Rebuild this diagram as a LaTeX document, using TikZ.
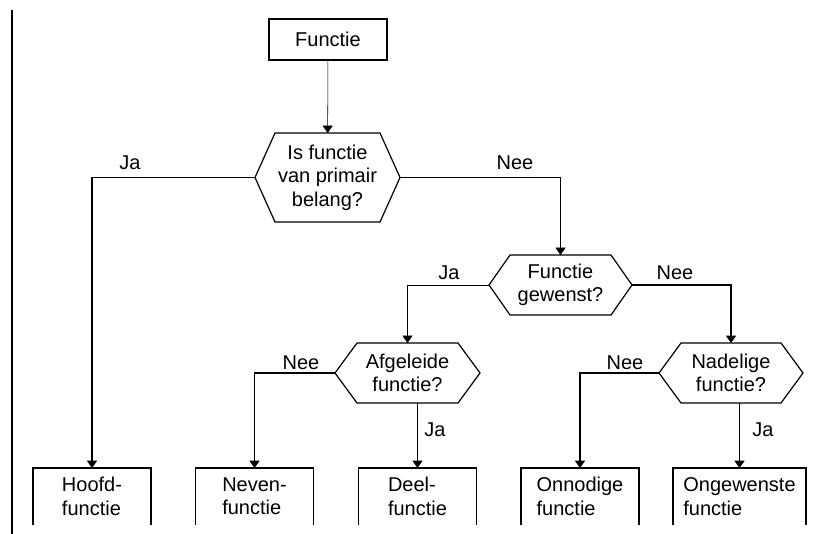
\documentclass[tikz,border=0pt]{standalone}
\usepackage{fontspec}
\setmainfont{Liberation Sans}
\usetikzlibrary{arrows.meta}

\begin{document}
\begin{tikzpicture}[x=0.75pt, y=-0.75pt, -{Triangle[width=7.5pt,length=5.5pt]}, line width=1.1pt,
font=\fontsize{15}{17.5}\selectfont,
keuze/.style ={rectangle, inner sep=0pt, outer sep=0pt, align=center, minimum width=0.75*145pt, minimum height=0.75*60pt},
uitkomst/.style ={rectangle, inner sep=0pt, outer sep=0pt, align=left, anchor=north, minimum width=0.75*118pt, minimum height=0.75*57pt},
dun/.style ={line width=0.4pt},
antwoord/.style ={inner sep=0pt}]
\useasboundingbox (0,0) rectangle (816,534);
\draw[-, line width=1.5pt] (12,10) -- (12,534);

\node[draw, rectangle, outer sep=0pt, minimum width=0.75*118pt, minimum height=0.75*41pt] (functie) at (328,39.5) {Functie};
\node[keuze, minimum height=0.75*89pt] (primair) at (327.5,177.5) {Is functie\\van primair\\belang?};
\node[keuze, minimum width=0.75*143pt] (gewenst) at (560.5,285) {Functie\\gewenst?};
\node[keuze] (afgeleid) at (407.5,373) {Afgeleide\\functie?};
\node[keuze, minimum width=0.75*144pt] (nadelig) at (731,373) {Nadelige\\functie?};

\node[uitkomst] (hoofd) at (92,468) {Hoofd-\\functie};
\node[uitkomst] (neven) at (254.5,468) {Neven-\\functie};
\node[uitkomst] (deel) at (417.5,468) {Deel-\\functie};
\node[uitkomst] (onnodig) at (580,468) {Onnodige\\functie};
\node[uitkomst, minimum width=0.75*133pt] (ongewenst) at (739.5,468) {Ongewenste\\functie};

% zeshoeken en open vakken
\foreach \n/\d in {primair/20, gewenst/21, afgeleid/22, nadelig/22}
  \draw[-, line width=0.9pt] ([xshift=0.75pt*\d]\n.north west) -- ([xshift=-0.75pt*\d]\n.north east) -- (\n.east)
    -- ([xshift=-0.75pt*\d]\n.south east) -- ([xshift=0.75pt*\d]\n.south west) -- (\n.west) -- cycle;
\foreach \n in {hoofd, neven, deel, onnodig, ongewenst}
  \draw[-] (\n.south west) -- (\n.north west) -- (\n.north east) -- (\n.south east);

\draw[dun] (functie) -- (primair);
\draw (primair.west) -| (hoofd.north);
\draw[dun] (primair.east) -| (gewenst.north);
\draw[dun] (gewenst.west) -| (afgeleid.north);
\draw (gewenst.east) -| (nadelig.north);
\draw (afgeleid.west) -| (neven.north);
\draw (deel.north |- afgeleid.south) -- (deel.north);
\draw (nadelig.west) -| (onnodig.north);
\draw (ongewenst.north |- nadelig.south) -- (ongewenst.north);

\node[antwoord] (ja1) at (130,163) {Ja};
\node[antwoord] (nee1) at (515,163) {Nee};
\node[antwoord] (ja2) at (449,273) {Ja};
\node[antwoord] (nee2) at (675,273) {Nee};
\node[antwoord] (nee3) at (301,363) {Nee};
\node[antwoord] (nee4) at (625,363) {Nee};
\node[antwoord] (ja3) at (435,430) {Ja};
\node[antwoord] (ja4) at (763,430) {Ja};
\end{tikzpicture}
\end{document}
